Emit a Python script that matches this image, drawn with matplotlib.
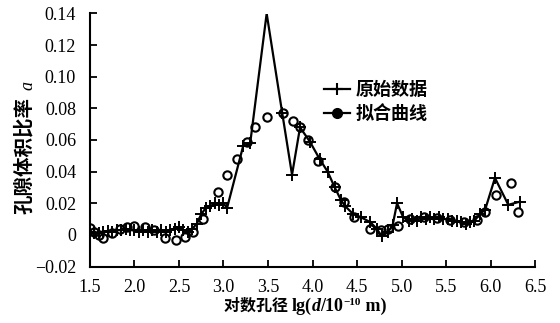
import matplotlib
matplotlib.use("Agg")
import matplotlib.pyplot as plt
from matplotlib.lines import Line2D
from matplotlib.ticker import FuncFormatter
from matplotlib.font_manager import FontProperties

# ---------------- data ----------------
raw_x = [1.5, 1.55, 1.6, 1.65, 1.7, 1.75, 1.8, 1.85, 1.9, 1.95, 2.0, 2.05, 2.1, 2.15,
         2.2, 2.25, 2.3, 2.35, 2.4, 2.45, 2.5, 2.55, 2.6, 2.65, 2.7, 2.75, 2.8, 2.85,
         2.9, 2.95, 3.0, 3.04, 3.22, 3.3, 3.485, 3.66, 3.77, 3.86, 3.97, 4.08, 4.17,
         4.25, 4.32, 4.37, 4.46, 4.55, 4.65, 4.72, 4.78, 4.85, 4.9, 4.95, 5.02, 5.08,
         5.12, 5.17, 5.22, 5.27, 5.32, 5.37, 5.42, 5.47, 5.52, 5.57, 5.62, 5.67, 5.72,
         5.77, 5.82, 5.88, 5.94, 6.05, 6.2, 6.33]
raw_y = [0.002, 0.001, 0.0015, 0.002, 0.0025, 0.002, 0.003, 0.003, 0.004, 0.003, 0.003,
         0.002, 0.003, 0.002, 0.003, 0.002, 0.003, 0.002, 0.003, 0.004, 0.005, 0.003,
         0.002, 0.004, 0.007, 0.013, 0.017, 0.018, 0.020, 0.019, 0.020, 0.017, 0.056,
         0.058, 0.140, 0.077, 0.038, 0.068, 0.059, 0.048, 0.040, 0.030, 0.022, 0.018,
         0.013, 0.011, 0.008, 0.004, -0.001, 0.002, 0.006, 0.020, 0.011, 0.009, 0.010,
         0.009, 0.011, 0.010, 0.011, 0.010, 0.011, 0.010, 0.010, 0.009, 0.009, 0.008,
         0.007, 0.008, 0.009, 0.013, 0.016, 0.036, 0.019, 0.021]

fit_x = [1.5, 1.55, 1.6, 1.65, 1.75, 1.84, 1.92, 2.0, 2.12, 2.22, 2.34, 2.47, 2.57,
         2.66, 2.77, 2.94, 3.04, 3.15, 3.26, 3.35, 3.485, 3.665, 3.785, 3.86, 3.95,
         4.06, 4.25, 4.35, 4.47, 4.65, 4.77, 4.85, 4.96, 5.1, 5.25, 5.4, 5.55, 5.7,
         5.85, 5.94, 6.06, 6.23, 6.31]
fit_y = [0.0043, 0.002, 0.0, -0.002, 0.001, 0.004, 0.005, 0.0056, 0.005, 0.003, -0.0018,
         -0.003, -0.0015, 0.002, 0.010, 0.0273, 0.038, 0.048, 0.059, 0.068, 0.0746,
         0.077, 0.072, 0.068, 0.060, 0.047, 0.030, 0.021, 0.011, 0.004, 0.003, 0.0037,
         0.0056, 0.010, 0.011, 0.0105, 0.0095, 0.008, 0.0094, 0.0147, 0.025, 0.0327,
         0.0147]

series_names = ["原始数据", "拟合曲线"]
x_ticks = [1.5, 2.0, 2.5, 3.0, 3.5, 4.0, 4.5, 5.0, 5.5, 6.0, 6.5]
y_ticks = [-0.02, 0, 0.02, 0.04, 0.06, 0.08, 0.10, 0.12, 0.14]

# ---------------- figure ----------------
W, H = 560, 323
fig = plt.figure(figsize=(W / 100, H / 100), dpi=100)
ax = fig.add_axes([90 / W, 1 - 266.5 / H, (535 - 90) / W, (266.5 - 13.5) / H])

serif = "Liberation Serif"
cjk = "Noto Sans CJK SC"

ax.plot(raw_x, raw_y, color="black", lw=1.6, marker="+", ms=8, mew=1.4, zorder=3)
ax.plot(fit_x, fit_y, ls="none", marker="o", ms=6, mfc="none", mec="black", mew=1.5,
        zorder=4)

ax.set_xlim(1.5, 6.5)
ax.set_ylim(-0.02, 0.14)
ax.set_xticks(x_ticks)
ax.set_yticks(y_ticks)

def yfmt(v, pos):
    if abs(v) < 1e-9:
        return "0"
    s = f"{v:.2f}"
    return s.replace("-", "\u2212")

ax.yaxis.set_major_formatter(FuncFormatter(yfmt))
ax.xaxis.set_major_formatter(FuncFormatter(lambda v, p: f"{v:.1f}"))

for s in ["top", "right"]:
    ax.spines[s].set_visible(False)
for s in ["left", "bottom"]:
    ax.spines[s].set_linewidth(1.5)

ax.tick_params(direction="in", length=5, width=1.3, labelsize=13)
ax.tick_params(axis="y", pad=10)
ax.tick_params(axis="x", pad=9)
for lab in ax.get_xticklabels() + ax.get_yticklabels():
    lab.set_fontfamily(serif)

# legend
handles = [
    Line2D([], [], color="black", lw=1.6, marker="+", ms=9, mew=1.5),
    Line2D([], [], color="black", lw=1.6, marker="o", ms=7, mfc="black"),
]
leg = ax.legend(handles, series_names, loc="upper left",
                bbox_to_anchor=(0.49, 0.80), frameon=False, handlelength=1.4,
                handletextpad=0.35, labelspacing=0.25,
                prop=FontProperties(family=[cjk], weight="bold", size=13))

# y label pieces
fig.text(24 / W, 1 - 156 / H, "孔隙体积比率", rotation=90, ha="center", va="center",
         fontfamily=cjk, fontweight="bold", fontsize=14)
fig.text(28 / W, 1 - 86 / H, "a", rotation=90, ha="center", va="center",
         fontfamily=serif, fontstyle="italic", fontsize=13)

# x label pieces, laid out in sequence
fig.canvas.draw()
renderer = fig.canvas.get_renderer()
pieces = [
    ("对数孔径 ", dict(fontfamily=cjk, fontweight="bold", fontsize=11.5)),
    ("lg(", dict(fontfamily=serif, fontweight="bold", fontsize=13)),
    ("d", dict(fontfamily=serif, fontweight="bold", fontstyle="italic", fontsize=13)),
    ("/10", dict(fontfamily=serif, fontweight="bold", fontsize=13)),
    ("\u221210", dict(fontfamily=serif, fontweight="bold", fontsize=8, up=True)),
    (" m)", dict(fontfamily=serif, fontweight="bold", fontsize=13)),
]
ybase = 1 - 311 / H
texts = []
widths = []
for t, kw in pieces:
    kw = dict(kw)
    up = kw.pop("up", False)
    tx = fig.text(0, ybase + (6 / H if up else 0), t, ha="left", va="baseline", **kw)
    bb = tx.get_window_extent(renderer)
    texts.append(tx)
    widths.append(bb.width / W)
total = sum(widths)
xc = 305 / W
x0 = xc - total / 2
for tx, w in zip(texts, widths):
    tx.set_x(x0)
    x0 += w

fig.savefig("out.png", dpi=100)
